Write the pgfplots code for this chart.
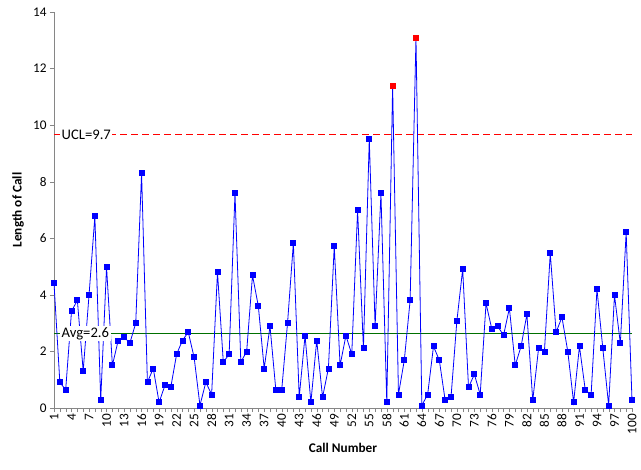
\documentclass[border=0pt]{standalone}
\usepackage{pgfplots}
\pgfplotsset{compat=1.18}
\usepackage{pgfplotstable}
\usepackage{fontspec}
\setmainfont{Carlito}
\usetikzlibrary{calc}

\definecolor{axgray}{RGB}{134,134,134}
\definecolor{avggreen}{RGB}{0,112,0}

\pgfplotstableread{
n y
1 4.41
2 0.91
3 0.64
4 3.42
5 3.81
6 1.31
7 3.99
8 6.78
9 0.28
10 4.98
11 1.51
12 2.39
13 2.50
14 2.30
15 3.00
16 8.30
17 0.91
18 1.40
19 0.20
20 0.80
21 0.73
22 1.90
23 2.39
24 2.68
25 1.79
26 0.09
27 0.91
28 0.48
29 4.80
30 1.62
31 1.90
32 7.59
33 1.62
34 2.00
35 4.69
36 3.60
37 1.40
38 2.89
39 0.63
40 0.63
41 3.00
42 5.83
43 0.38
44 2.56
45 0.20
46 2.39
47 0.38
48 1.40
49 5.72
50 1.51
51 2.56
52 1.90
53 6.99
54 2.11
55 9.50
56 2.89
57 7.59
58 0.20
59 11.38
60 0.48
61 1.69
62 3.81
63 13.08
64 0.09
65 0.48
66 2.18
67 1.69
68 0.27
69 0.38
70 3.07
71 4.91
72 0.73
73 1.19
74 0.48
75 3.70
76 2.78
77 2.89
78 2.57
79 3.53
80 1.51
81 2.18
82 3.31
83 0.27
84 2.11
85 2.00
86 5.47
87 2.68
88 3.21
89 2.00
90 0.20
91 2.18
92 0.63
93 0.48
94 4.20
95 2.11
96 0.09
97 3.99
98 2.29
99 6.21
100 0.27
}\calls

\begin{document}
\begin{tikzpicture}
\begin{axis}[
    name=ax,
    scale only axis,
    width=578bp, height=396bp,
    xmin=1, xmax=100, ymin=0, ymax=14,
    axis x line*=bottom, axis y line*=left,
    axis line style={axgray},
    xtick={1,4,...,100}, minor xtick={1,...,100},
    ytick={0,2,...,14},
    tick align=outside,
    tick style={axgray},
    major tick length=4bp, minor tick length=4bp,
    /pgf/number format/assume math mode=true,
    ticklabel style={font=\fontsize{13.3}{15}\selectfont},
    xticklabel style={rotate=90, anchor=east, inner sep=2bp},
    xlabel={\bfseries Call Number},
    ylabel={\bfseries Length of Call},
    label style={font=\fontsize{13.3}{15}\selectfont},
    xlabel style={at={(axis description cs:0.5,-0.101)}, anchor=center},
    ylabel style={at={(axis description cs:-0.0623,0.5)}, anchor=center},
    clip=false,
]
% control limits
\addplot[red, line width=0.8bp, dash pattern=on 7bp off 4bp] coordinates {(1,9.66) (100,9.66)};
\addplot[avggreen, line width=0.8bp] coordinates {(1,2.64) (100,2.64)};
% data
\addplot[blue, line width=0.8bp, mark=square*, mark size=2.5bp, mark options={solid, fill=blue}] table[x=n, y=y] {\calls};
% out of control points
\addplot[only marks, mark=square*, mark size=2.5bp, red, mark options={fill=red}] coordinates {(59,11.38) (63,13.08)};
\coordinate (ucl) at (axis cs:1,9.66);
\coordinate (avg) at (axis cs:1,2.64);
\end{axis}
\node[fill=white, anchor=west, inner sep=1.5bp, font=\fontsize{14.7}{16}\selectfont] at ($(ucl)+(6bp,0)$) {UCL=9.7};
\node[fill=white, anchor=west, inner sep=1.5bp, font=\fontsize{14.7}{16}\selectfont] at ($(avg)+(6bp,0)$) {Avg=2.6};
\pgfresetboundingbox
\path ($(ax.south west)+(-54bp,-61bp)$) rectangle ($(ax.north east)+(9bp,12bp)$);
\end{tikzpicture}
\end{document}
